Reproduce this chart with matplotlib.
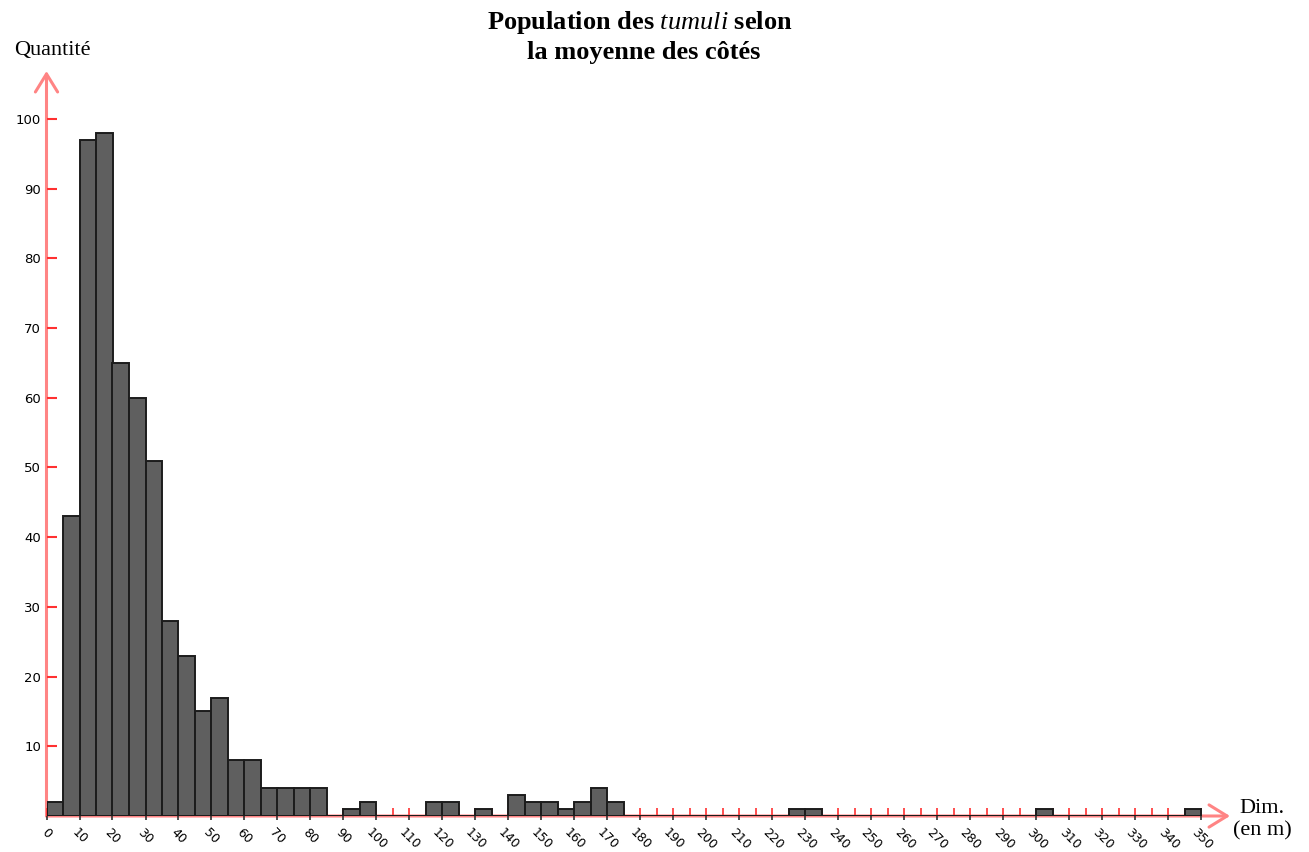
import numpy as np
import matplotlib
matplotlib.use("Agg")
import matplotlib.pyplot as plt

# =========================================
# DATA
# =========================================

bin_width = 5
bin_starts = np.arange(0, 350, bin_width)

counts = [2, 43, 97, 98, 65, 60, 51, 28, 23, 15,
          17, 8, 8, 4, 4, 4, 4, 0, 1, 2,
          0, 0, 0, 2, 2, 0, 1, 0, 3, 2,
          2, 1, 2, 4, 2, 0, 0, 0, 0, 0,
          0, 0, 0, 0, 0, 1, 1, 0, 0, 0,
          0, 0, 0, 0, 0, 0, 0, 0, 0, 0,
          1, 0, 0, 0, 0, 0, 0, 0, 0, 1]

x_ticks = np.arange(0, 360, 10)
x_minor = np.arange(0, 355, 5)
y_ticks = np.arange(10, 110, 10)

title_line1 = r"Population des $\mathit{tumuli}$ selon"
title_line2 = "la moyenne des côtés"
y_label = "Quantité"
x_label = "Dim.\n(en m)"

# =========================================
# STYLE
# =========================================

plt.rcParams["mathtext.fontset"] = "custom"
plt.rcParams["mathtext.it"] = "Liberation Serif:italic"
plt.rcParams["mathtext.rm"] = "Liberation Serif"

axis_red = "#ff8484"
tick_red = "#ff3030"
bar_face = "#5f5f5f"
bar_edge = "#1c1c1c"

W, H = 1309, 852
fig = plt.figure(figsize=(W / 100, H / 100), dpi=100)

# pixel geometry of the plotting area
x0_px, x_end_px = 46.5, 1230
y0_px, y_end_px = 816, 71
px_per_x = 3.30
px_per_y = 6.97

ax = fig.add_axes([x0_px / W, (H - y0_px) / H,
                   (x_end_px - x0_px) / W, (y0_px - y_end_px) / H])
ax.set_xlim(0, (x_end_px - x0_px) / px_per_x)
ax.set_ylim(0, (y0_px - y_end_px) / px_per_y)

for s in ax.spines.values():
    s.set_visible(False)

# =========================================
# AXES WITH ARROWS
# =========================================

arrow = dict(arrowstyle="->,head_length=1.3,head_width=0.8",
             color=axis_red, lw=2.2, shrinkA=0, shrinkB=0)
ax.annotate("", xy=(1, 0), xytext=(0, 0), xycoords="axes fraction",
            arrowprops=arrow, zorder=1, annotation_clip=False)
ax.annotate("", xy=(0, 1), xytext=(0, 0), xycoords="axes fraction",
            arrowprops=arrow, zorder=1, annotation_clip=False)

# =========================================
# BARS
# =========================================

ax.hlines(0, bin_starts[0], bin_starts[-1] + bin_width,
          color=bar_edge, lw=1.4, zorder=2)
ax.bar(bin_starts, counts, width=bin_width, align="edge",
       color=bar_face, edgecolor=bar_edge, linewidth=1.4, zorder=3)

# =========================================
# TICKS
# =========================================

ax.xaxis.remove_overlapping_locs = False
ax.set_xticks(x_ticks)
ax.set_xticks(x_minor, minor=True)
ax.set_xticklabels([str(v) for v in x_ticks], rotation=-45,
                   ha="center", va="top", fontsize=9,
                   family="DejaVu Sans")
ax.tick_params(axis="x", which="major", direction="out", length=3,
               width=1.2, color="#333333", pad=4)
ax.tick_params(axis="x", which="minor", direction="in", length=6,
               width=1.2, color=tick_red)

ax.set_yticks(y_ticks)
ax.set_yticklabels([str(v) for v in y_ticks], fontsize=9.5,
                   family="DejaVu Sans")
ax.tick_params(axis="y", direction="in", length=7, width=1.5,
               color=tick_red, pad=4)

# =========================================
# TEXTS
# =========================================

fig.text(640 / W, 1 - 23 / H, title_line1, ha="center", va="center",
         fontsize=19, fontweight="bold", family="Liberation Serif")
fig.text(644 / W, 1 - 53 / H, title_line2, ha="center", va="center",
         fontsize=19, fontweight="bold", family="Liberation Serif")

fig.text(52 / W, 1 - 51 / H, y_label, ha="center", va="center",
         fontsize=16, family="Liberation Serif")
fig.text(1262 / W, 1 - 820 / H, x_label, ha="center", va="center",
         fontsize=16, family="Liberation Serif", linespacing=1.2)

fig.savefig("out.png", dpi=100)
